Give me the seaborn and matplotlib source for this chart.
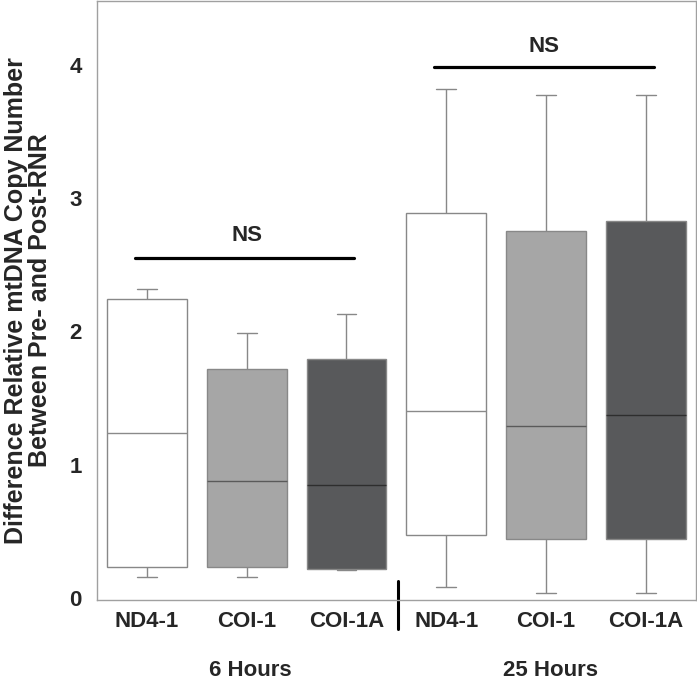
import numpy as np
import pandas as pd
import seaborn as sns
from matplotlib import pyplot as plt

# ==============================================================================
# DATA (five-number summaries: min, q1, median, q3, max)
# ==============================================================================
primers = ["ND4-1", "COI-1", "COI-1A"]
timepoints = ["6 Hours", "25 Hours"]

nd4_6h = [0.16, 0.23, 1.24, 2.24, 2.32]
coi1_6h = [0.16, 0.23, 0.88, 1.72, 1.99]
coi1a_6h = [0.21, 0.22, 0.85, 1.79, 2.13]
nd4_25h = [0.085, 0.47, 1.40, 2.89, 3.82]
coi1_25h = [0.035, 0.44, 1.29, 2.75, 3.77]
coi1a_25h = [0.035, 0.44, 1.37, 2.83, 3.77]

box_colors = ["#ffffff", "#a6a6a6", "#58595b"]
median_colors = ["#8a8a8a", "#5a5a5a", "#2e2e2e"]

groups = [
    ("6 Hours", "ND4-1", nd4_6h), ("6 Hours", "COI-1", coi1_6h), ("6 Hours", "COI-1A", coi1a_6h),
    ("25 Hours", "ND4-1", nd4_25h), ("25 Hours", "COI-1", coi1_25h), ("25 Hours", "COI-1A", coi1a_25h),
]
rows = []
for tp, pr, vals in groups:
    for v in vals:
        rows.append({"slot": f"{pr}|{tp}", "primer": pr, "time": tp, "value": v})
df = pd.DataFrame(rows)
order = [f"{pr}|{tp}" for tp, pr, _ in groups]

# ==============================================================================
# PLOT
# ==============================================================================
sns.set_style("white")
plt.rcParams["font.family"] = ["Liberation Sans", "DejaVu Sans"]

fig = plt.figure(figsize=(6.97, 6.83), dpi=100)
ax = fig.add_axes([0.139, 0.1215, 0.8595, 0.8775])

palette = {f"{pr}|{tp}": box_colors[primers.index(pr)] for tp, pr, _ in groups}
sns.boxplot(
    data=df, x="slot", y="value", order=order, hue="slot", palette=palette,
    whis=(0, 100), width=0.8, linecolor="#888888", linewidth=1.0,
    showfliers=False, capwidths=0.2, legend=False, saturation=1, ax=ax,
)

# median colours per box
medians = [l for l in ax.lines if len(l.get_xdata()) == 2 and
           l.get_ydata()[0] == l.get_ydata()[1] and
           abs(l.get_xdata()[1] - l.get_xdata()[0]) > 0.5]
for i, line in enumerate(medians):
    line.set_color(median_colors[i % 3])

ax.set_xlim(-0.5, 5.5)
ax.set_ylim(-0.015, 4.48)
ax.set_yticks([0, 1, 2, 3, 4])
ax.set_yticklabels(["0", "1", "2", "3", "4"], fontsize=16, fontweight="bold")
ax.set_xticks(range(6))
ax.set_xticklabels(primers * 2, fontsize=16, fontweight="bold")
ax.tick_params(axis="y", length=0, pad=11)
ax.tick_params(axis="x", length=0, pad=8)
ax.set_xlabel("")
ax.set_ylabel("Difference Relative mtDNA Copy Number\nBetween Pre- and Post-RNR",
              fontsize=18, fontweight="bold", linespacing=1.0)
ax.yaxis.set_label_coords(-0.075, 0.5)
for s in ax.spines.values():
    s.set_color("#a0a0a0")
    s.set_linewidth(1.0)

# significance bars
ax.plot([-0.12, 2.08], [2.55, 2.55], color="black", lw=2.3)
ax.text(1.0, 2.72, "NS", ha="center", va="center", fontsize=16, fontweight="bold")
ax.plot([2.88, 5.08], [3.98, 3.98], color="black", lw=2.3)
ax.text(3.98, 4.14, "NS", ha="center", va="center", fontsize=16, fontweight="bold")

# group separator
ax.plot([2.52, 2.52], [0.13, -0.23], color="black", lw=2.2, clip_on=False)

# group labels
for pos, tp in zip([1.035, 4.04], timepoints):
    ax.text(pos, -0.545, tp, ha="center", va="center", fontsize=16, fontweight="bold",
            clip_on=False)

fig.savefig("out.png", dpi=100)
